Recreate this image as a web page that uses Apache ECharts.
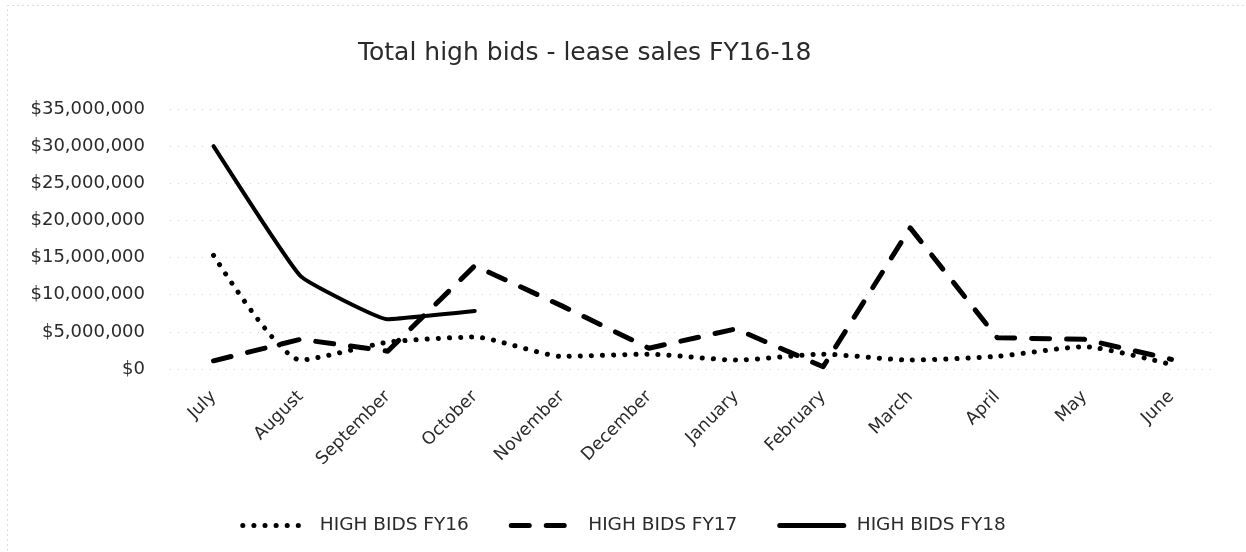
<!DOCTYPE html>
<html><head><meta charset="utf-8">
<script src="https://cdn.jsdelivr.net/npm/echarts@6/dist/echarts.min.js"></script>
<style>html,body{margin:0;padding:0;background:#fff}#c{width:1246px;height:552px}</style>
</head><body><div id="c"></div>
<script>
const categories = ['July','August','September','October','November','December','January','February','March','April','May','June'];
const fy16 = [15300000, 1200000, 3600000, 4300000, 1700000, 2000000, 1200000, 2000000, 1200000, 1700000, 3000000, 600000];
const fy17 = [1100000, 4000000, 2400000, 13900000, 8500000, 2800000, 5400000, 300000, 19000000, 4200000, 4000000, 1300000];
const fy18 = [30000000, 12500000, 6700000, 7800000, null, null, null, null, null, null, null, null];
const seriesNames = ['HIGH BIDS FY16', 'HIGH BIDS FY17', 'HIGH BIDS FY18'];
const yTicks = {min: 0, max: 35000000, interval: 5000000};

const chart = echarts.init(document.getElementById('c'));
const font = '"DejaVu Sans", sans-serif';
function fmt(v){ return '$' + v.toLocaleString('en-US'); }
chart.setOption({
  animation: false,
  backgroundColor: '#fff',
  title: {text: 'Total high bids - lease sales FY16-18', left: 353, top: 36,
    textStyle: {fontFamily: font, fontSize: 25, fontWeight: 'normal', color: '#2a2a2a'}},
  grid: {left: 170, right: 31, top: 109, bottom: 183},
  legend: {top: 511, left: 'center', itemGap: 40, itemWidth: 64, itemHeight: 12,
    itemStyle: {opacity: 0},
    lineStyle: {width: 5, cap: 'round'},
    textStyle: {fontFamily: font, fontSize: 18.5, color: '#2a2a2a', padding: [0, 0, 0, 8]},
    data: seriesNames},
  xAxis: {type: 'category', data: categories, boundaryGap: true,
    axisLine: {show: false}, axisTick: {show: false},
    axisLabel: {rotate: 45, interval: 0, margin: 25, fontFamily: font, fontSize: 17.5, color: '#2a2a2a'}},
  yAxis: {type: 'value', min: yTicks.min, max: yTicks.max, interval: yTicks.interval,
    axisLine: {show: false}, axisTick: {show: false},
    splitLine: {lineStyle: {color: '#cfcfcf', type: [1, 7], width: 1}},
    axisLabel: {formatter: fmt, margin: 25, fontFamily: font, fontSize: 18, color: '#2a2a2a'}},
  series: [
    {name: seriesNames[0], type: 'line', data: fy16, smooth: 0.2, symbol: 'none',
     lineStyle: {color: '#000', width: 5, type: [0.1, 11], cap: 'round'}, itemStyle: {color: '#000'}},
    {name: seriesNames[1], type: 'line', data: fy17, smooth: false, symbol: 'none',
     lineStyle: {color: '#000', width: 5, type: [18, 17], cap: 'round', join: 'round'}, itemStyle: {color: '#000'}},
    {name: seriesNames[2], type: 'line', data: fy18, smooth: 0.1, symbol: 'none',
     lineStyle: {color: '#000', width: 4, type: 'solid', cap: 'round', join: 'round'}, itemStyle: {color: '#000'}}
  ],
  graphic: [{type: 'rect', left: 5, top: 3, shape: {width: 1300, height: 560},
    style: {fill: 'none', stroke: '#bbb', lineWidth: 1, lineDash: [1, 4]}, silent: true}]
});
</script></body></html>
